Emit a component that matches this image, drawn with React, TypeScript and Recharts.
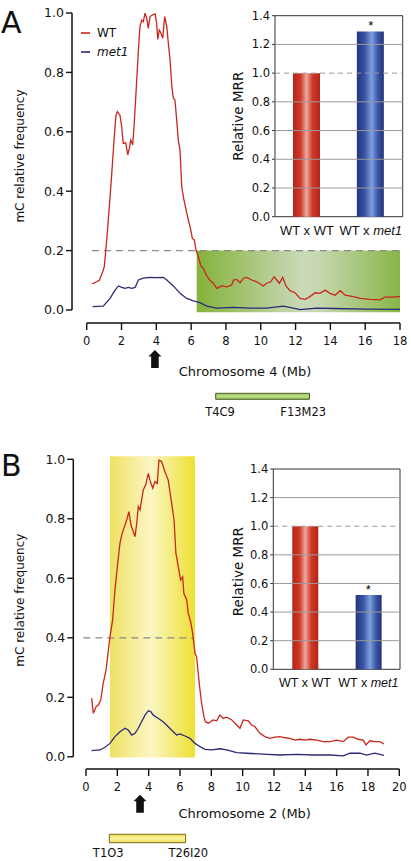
import React from 'react';
import {
  ComposedChart, Line, XAxis, YAxis, ReferenceArea, ReferenceLine, ReferenceDot,
  Legend, BarChart, Bar, Cell,
} from 'recharts';

const FONT = '"DejaVu Sans", "Liberation Sans", sans-serif';
const FONT2 = '"Liberation Sans", Arial, sans-serif';
const INK = '#111';
const RED = '#c9261d';
const NAVY = '#2b2a78';
const SERIES_COLORS: Record<string, string> = { WT: RED, met1: NAVY };

// ---------- Panel A: chromosome 4 ----------
const wtChr4: [number, number][] = [
  [0.32,0.088],[0.57,0.095],[0.73,0.10],[0.92,0.129],[1.01,0.146],[1.15,0.236],[1.30,0.348],[1.44,0.46],
  [1.57,0.572],[1.68,0.656],[1.76,0.668],[1.91,0.656],[2.01,0.617],[2.10,0.561],[2.24,0.563],[2.36,0.522],
  [2.45,0.544],[2.53,0.572],[2.64,0.556],[2.72,0.617],[2.83,0.73],[2.97,0.875],[3.06,0.954],[3.16,0.976],
  [3.25,0.971],[3.35,0.999],[3.45,0.982],[3.54,0.948],[3.64,0.988],[3.77,0.993],[3.93,0.997],[4.02,0.965],
  [4.08,0.911],[4.17,0.943],[4.27,0.932],[4.37,0.915],[4.48,0.988],[4.60,0.954],[4.69,0.898],[4.79,0.842],
  [4.89,0.752],[4.98,0.713],[5.07,0.707],[5.17,0.64],[5.26,0.572],[5.36,0.539],[5.46,0.415],[5.59,0.37],
  [5.75,0.326],[5.84,0.303],[5.98,0.269],[6.07,0.241],[6.18,0.236],[6.28,0.202],[6.41,0.18],[6.55,0.15],
  [6.70,0.14],[6.90,0.115],[7.08,0.1],[7.28,0.09],[7.47,0.073],[7.76,0.081],[8.05,0.078],[8.33,0.084],
  [8.43,0.101],[8.62,0.103],[8.81,0.092],[9.0,0.107],[9.2,0.11],[9.48,0.101],[9.77,0.095],[10.15,0.081],
  [10.34,0.09],[10.57,0.095],[10.77,0.112],[10.92,0.101],[11.07,0.09],[11.26,0.11],[11.45,0.081],[11.68,0.065],
  [11.97,0.058],[12.26,0.039],[12.55,0.036],[12.83,0.045],[13.12,0.058],[13.41,0.056],[13.7,0.067],[13.98,0.056],
  [14.27,0.05],[14.56,0.065],[14.85,0.05],[15.32,0.045],[15.71,0.039],[16.28,0.036],[16.86,0.034],[17.14,0.043],
  [17.53,0.043],[18.0,0.045],
];
const met1Chr4: [number, number][] = [
  [0.34,0.011],[0.95,0.013],[1.34,0.039],[1.63,0.067],[1.82,0.081],[2.01,0.076],[2.2,0.073],[2.39,0.076],
  [2.59,0.073],[2.78,0.076],[2.97,0.101],[3.25,0.107],[3.64,0.11],[4.02,0.109],[4.4,0.11],[4.6,0.101],
  [4.98,0.081],[5.36,0.056],[5.75,0.039],[6.13,0.031],[6.51,0.025],[6.9,0.013],[7.47,0.006],[8.43,0.009],
  [9.39,0.006],[10.34,0.006],[11.3,0.013],[11.87,0.006],[12.26,0.001],[13.2,0.006],[14.2,0.005],[16.1,0.003],
  [18,0.002],
];
const ticksChr4 = [0, 2, 4, 6, 8, 10, 12, 14, 16, 18];
const regionChr4 = { from: 6.32, to: 18, low: -0.008, high: 0.2 };
const thresholdChr4 = 0.2;
const arrowChr4 = 3.92;
const bacChr4 = { from: 7.41, to: 12.8, left: 'T4C9', right: 'F13M23', leftAt: 7.66, rightAt: 12.44 };

// ---------- Panel B: chromosome 2 ----------
const wtChr2: [number, number][] = [
  [0.36,0.197],[0.47,0.146],[0.64,0.168],[0.79,0.174],[0.94,0.191],[1.1,0.247],[1.28,0.292],[1.38,0.336],
  [1.53,0.404],[1.7,0.46],[1.85,0.561],[2.0,0.639],[2.17,0.718],[2.28,0.746],[2.45,0.773],[2.6,0.796],
  [2.74,0.824],[2.87,0.779],[3.02,0.757],[3.13,0.74],[3.24,0.785],[3.34,0.841],[3.45,0.83],[3.55,0.863],
  [3.66,0.897],[3.81,0.914],[3.98,0.953],[4.08,0.93],[4.26,0.903],[4.4,0.925],[4.55,0.919],[4.66,0.998],
  [4.83,0.992],[5.04,0.958],[5.25,0.93],[5.47,0.852],[5.62,0.796],[5.74,0.684],[5.89,0.639],[6.04,0.594],
  [6.17,0.605],[6.25,0.549],[6.43,0.527],[6.53,0.482],[6.68,0.454],[6.81,0.415],[6.96,0.348],[7.06,0.336],
  [7.23,0.247],[7.38,0.18],[7.53,0.135],[7.62,0.118],[7.81,0.113],[8.12,0.124],[8.34,0.121],[8.55,0.14],
  [8.76,0.129],[8.98,0.133],[9.3,0.124],[9.62,0.107],[9.83,0.096],[10.04,0.124],[10.36,0.121],[10.57,0.107],
  [10.79,0.101],[11.1,0.079],[11.42,0.068],[11.74,0.062],[12.06,0.066],[12.38,0.068],[12.7,0.064],[13.02,0.062],
  [13.34,0.056],[13.66,0.059],[13.98,0.056],[14.29,0.059],[14.72,0.056],[15.14,0.051],[15.57,0.051],[16.0,0.056],
  [16.42,0.051],[16.74,0.066],[17.06,0.066],[17.38,0.059],[17.7,0.056],[17.87,0.04],[18.12,0.054],[18.44,0.051],
  [18.76,0.051],[19.02,0.043],
];
const met1Chr2: [number, number][] = [
  [0.36,0.021],[0.89,0.023],[1.21,0.032],[1.53,0.045],[1.85,0.068],[2.17,0.084],[2.49,0.096],[2.7,0.09],
  [2.92,0.073],[3.13,0.079],[3.34,0.096],[3.55,0.118],[3.77,0.14],[3.98,0.155],[4.13,0.152],[4.3,0.14],
  [4.62,0.129],[4.93,0.118],[5.25,0.101],[5.57,0.084],[5.79,0.073],[6.0,0.077],[6.32,0.07],[6.64,0.062],
  [6.96,0.045],[7.28,0.034],[7.59,0.025],[8.02,0.023],[8.55,0.027],[8.98,0.023],[9.62,0.014],[10.26,0.012],
  [11.31,0.009],[12.38,0.006],[13.45,0.008],[14.5,0.006],[15.57,0.006],[16.42,0.003],[16.85,0.012],[17.49,0.012],
  [17.91,0.006],[18.44,0.012],[19.02,0.005],
];
const ticksChr2 = [0, 2, 4, 6, 8, 10, 12, 14, 16, 18, 20];
const regionChr2 = { from: 1.53, to: 6.96, low: -0.002, high: 1.01 };
const thresholdChr2 = 0.4;
const arrowChr2 = 3.45;
const bacChr2 = { from: 1.49, to: 6.36, left: 'T1O3', right: 'T26I20', leftAt: 1.42, rightAt: 6.53 };

// ---------- Insets ----------
const crosses = ['WT x WT', 'WT x met1'];
const mrrA = [1.0, 1.29];
const mrrB = [1.0, 0.52];
const starsA = ['', '*'];
const starsB = ['', '*'];
const mrrTicks = [0, 0.2, 0.4, 0.6, 0.8, 1.0, 1.2, 1.4];
const mrrGrid = [0.2, 0.4, 0.6, 0.8, 1.2];

const yTicks = [0, 0.2, 0.4, 0.6, 0.8, 1.0];

const toPts = (a: [number, number][]) => a.map(([x, y]) => ({ x, y }));

const Arrow = (p: any) => {
  const { cx, cy } = p;
  if (cx == null || cy == null) return null;
  const d = `M ${cx} ${cy - 9} L ${cx + 6.5} ${cy - 2.5} L ${cx + 3.8} ${cy - 2.5} L ${cx + 3.8} ${cy + 9} L ${cx - 3.8} ${cy + 9} L ${cx - 3.8} ${cy - 2.5} L ${cx - 6.5} ${cy - 2.5} Z`;
  return <path d={d} fill={INK} />;
};

const textShape = (label: string) => (p: any) => {
  const { cx, cy } = p;
  if (cx == null || cy == null) return null;
  return (
    <text x={cx} y={cy} textAnchor="middle" dominantBaseline="central" fontSize={11.5} fill={INK}>{label}</text>
  );
};

const starShape = (label: string) => (p: any) => {
  const { cx, cy } = p;
  if (cx == null || cy == null) return null;
  return (
    <text x={cx} y={cy - 1} textAnchor="middle" fontSize={13} fill="#000" fontFamily={FONT2}>{label}</text>
  );
};

const renderLegend = (props: any) => {
  const { payload } = props;
  return (
    <div style={{ fontFamily: FONT }}>
      {(payload || []).map((e: any) => (
        <div key={e.value} style={{ display: 'flex', alignItems: 'center', height: 18.4 }}>
          <svg width={9} height={4} style={{ marginRight: 7, display: 'block' }}>
            <line x1={0} y1={2} x2={9} y2={2} stroke={SERIES_COLORS[e.value] || INK} strokeWidth={1.6} />
          </svg>
          <span style={{ fontSize: 12, color: INK, fontStyle: e.value === 'met1' ? 'italic' : 'normal' }}>{e.value}</span>
        </div>
      ))}
    </div>
  );
};

const insetTick = (fs: number) => (props: any) => {
  const { x, y, payload } = props;
  const v: string = payload.value;
  const i = v.indexOf('met1');
  return (
    <text x={x} y={y} dy="0.71em" textAnchor="middle" fontSize={fs} fill={INK} fontFamily={FONT2}>
      {i >= 0 ? (
        <>
          <tspan>{v.slice(0, i)}</tspan>
          <tspan fontStyle="italic">met1</tspan>
        </>
      ) : v}
    </text>
  );
};

type MainProps = {
  top: number; height: number; yAxisW: number; marginTop: number; marginRight: number; xAxisH: number;
  xMin: number; xMax: number; yMin: number; ticks: number[];
  wt: [number, number][]; met1: [number, number][];
  region: { from: number; to: number; low: number; high: number }; regionFill: string;
  threshold: number; thrFrom: number; thrTo: number;
  arrowX: number; arrowY: number;
  bac: { from: number; to: number; left: string; right: string; leftAt: number; rightAt: number };
  bacLow: number; bacHigh: number; bacText: number; bacFill: string; bacStroke: string;
  xTitle: string; xTitleDx: number; xTitleOffset: number; yTitleDx: number; yTitleDy: number;
  legend: boolean;
};

const MainPanel = (p: MainProps) => (
  <div style={{ position: 'absolute', left: 0, top: p.top }}>
    <ComposedChart width={411} height={p.height} margin={{ top: p.marginTop, right: p.marginRight, bottom: 0, left: 0 }}>
      <XAxis
        type="number" dataKey="x" domain={[p.xMin, p.xMax]} allowDataOverflow ticks={p.ticks}
        axisLine={false} tickLine={{ stroke: INK, strokeWidth: 1.4 }} tickSize={7} tickMargin={7}
        height={p.xAxisH} tick={{ fontSize: 11.5, fill: INK }}
        label={{ value: p.xTitle, position: 'insideTop', offset: p.xTitleOffset, dx: p.xTitleDx, style: { fontSize: 13, fill: INK } }}
      />
      <YAxis
        type="number" domain={[p.yMin, 1]} allowDataOverflow ticks={yTicks}
        tickFormatter={(v: number) => v.toFixed(1)} axisLine={false} width={p.yAxisW}
        tickSize={6} tickMargin={2} tick={{ fontSize: 12.5, fill: INK }} tickLine={{ stroke: INK, strokeWidth: 1.4 }}
        label={{ value: 'mC relative frequency', angle: -90, position: 'center', dx: p.yTitleDx, dy: p.yTitleDy, style: { fontSize: 12, fill: INK } }}
      />
      <ReferenceArea x1={p.region.from} x2={p.region.to} y1={p.region.low} y2={p.region.high}
        fill={p.regionFill} fillOpacity={1} stroke="none" ifOverflow="visible" />
      <ReferenceLine segment={[{ x: p.thrFrom, y: p.threshold }, { x: p.thrTo, y: p.threshold }]}
        stroke="#8a8a8a" strokeDasharray="7 5" strokeWidth={1.2} ifOverflow="visible" />
      <ReferenceLine segment={[{ x: 0, y: p.yMin }, { x: p.xMax, y: p.yMin }]} stroke={INK} strokeWidth={1.5} ifOverflow="visible" />
      <ReferenceLine segment={[{ x: p.xMin, y: 0 }, { x: p.xMin, y: 1 }]} stroke={INK} strokeWidth={1.5} ifOverflow="visible" />
      <Line data={toPts(p.wt)} dataKey="y" name="WT" stroke={RED} strokeWidth={1.3} dot={false} type="linear" isAnimationActive={false} />
      <Line data={toPts(p.met1)} dataKey="y" name="met1" stroke={NAVY} strokeWidth={1.3} dot={false} type="linear" isAnimationActive={false} />
      <ReferenceDot x={p.arrowX} y={p.arrowY} ifOverflow="visible" shape={Arrow} />
      <ReferenceArea x1={p.bac.from} x2={p.bac.to} y1={p.bacLow} y2={p.bacHigh}
        fill={p.bacFill} fillOpacity={1} stroke={p.bacStroke} strokeWidth={1} ifOverflow="visible" />
      <ReferenceDot x={p.bac.leftAt} y={p.bacText} ifOverflow="visible" shape={textShape(p.bac.left)} />
      <ReferenceDot x={p.bac.rightAt} y={p.bacText} ifOverflow="visible" shape={textShape(p.bac.right)} />
      {p.legend && (
        <Legend layout="vertical" align="center" verticalAlign="middle" content={renderLegend}
          wrapperStyle={{ left: 81, top: 24, width: 80 }} />
      )}
    </ComposedChart>
  </div>
);

type InsetProps = {
  left: number; top: number; width: number; height: number; yAxisW: number;
  marginTop: number; marginRight: number; xAxisH: number; values: number[]; stars: string[];
  titleDx: number; titleDy: number; tickFs: number; barSize: number;
};

const Inset = (p: InsetProps) => {
  const data = crosses.map((name, i) => ({ name, value: p.values[i] }));
  const fills = ['url(#barRed)', 'url(#barBlue)'];
  return (
    <div style={{ position: 'absolute', left: p.left, top: p.top }}>
      <BarChart width={p.width} height={p.height} data={data}
        margin={{ top: p.marginTop, right: p.marginRight, bottom: 0, left: 0 }}>
        <XAxis dataKey="name" axisLine={false} tickLine={false} tickSize={0} tickMargin={9}
          height={p.xAxisH} interval={0} tick={insetTick(p.tickFs)} />
        <YAxis type="number" domain={[0, 1.4]} ticks={mrrTicks} tickFormatter={(v: number) => v.toFixed(1)}
          axisLine={false} width={p.yAxisW} tickSize={3} tickMargin={2}
          tick={{ fontSize: 11.5, fill: INK }} tickLine={{ stroke: '#333' }}
          label={{ value: 'Relative MRR', angle: -90, position: 'center', dx: p.titleDx, dy: p.titleDy, style: { fontSize: 13.5, fill: INK } }} />
        {mrrGrid.map((g) => (
          <ReferenceLine key={g} y={g} stroke="#9a9a9a" strokeWidth={1} />
        ))}
        <ReferenceLine y={1.0} stroke="#9a9a9a" strokeDasharray="5 4" strokeWidth={1} />
        <Bar dataKey="value" barSize={p.barSize} isAnimationActive={false}>
          {data.map((d, i) => <Cell key={d.name} fill={fills[i]} />)}
        </Bar>
        {crosses.map((c, i) => (p.stars[i] ? (
          <ReferenceDot key={c} x={c} y={p.values[i]} ifOverflow="visible" shape={starShape(p.stars[i])} />
        ) : null))}
        <ReferenceArea y1={0} y2={1.4} fill="none" stroke="#333" strokeWidth={1} />
      </BarChart>
    </div>
  );
};

export default function App() {
  return (
    <div style={{ position: 'absolute', left: 0, top: 0, width: 411, height: 861, background: '#fff', fontFamily: FONT, overflow: 'hidden' }}>
      <svg width={411} height={861} style={{ position: 'absolute', left: 0, top: 0 }}>
        <defs>
          <linearGradient id="gradGreen" x1="0" y1="0" x2="1" y2="0">
            <stop offset="0%" stopColor="#84b23a" />
            <stop offset="52%" stopColor="#cad9b8" />
            <stop offset="60%" stopColor="#c6d7b0" />
            <stop offset="100%" stopColor="#88b646" />
          </linearGradient>
          <linearGradient id="gradGreenBar" x1="0" y1="0" x2="0" y2="1">
            <stop offset="0%" stopColor="#8fc050" />
            <stop offset="50%" stopColor="#bfe08e" />
            <stop offset="100%" stopColor="#8fc050" />
          </linearGradient>
          <linearGradient id="gradYellow" x1="0" y1="0" x2="1" y2="0">
            <stop offset="0%" stopColor="#efe162" />
            <stop offset="48%" stopColor="#fbf6c4" />
            <stop offset="100%" stopColor="#eee032" />
          </linearGradient>
          <linearGradient id="gradYellowBar" x1="0" y1="0" x2="0" y2="1">
            <stop offset="0%" stopColor="#efe050" />
            <stop offset="50%" stopColor="#fbf3a0" />
            <stop offset="100%" stopColor="#efe050" />
          </linearGradient>
          <linearGradient id="barRed" x1="0" y1="0" x2="1" y2="0">
            <stop offset="0%" stopColor="#b52416" />
            <stop offset="28%" stopColor="#cf3a28" />
            <stop offset="50%" stopColor="#eaa99e" />
            <stop offset="72%" stopColor="#cf3a28" />
            <stop offset="100%" stopColor="#b52416" />
          </linearGradient>
          <linearGradient id="barBlue" x1="0" y1="0" x2="1" y2="0">
            <stop offset="0%" stopColor="#263378" />
            <stop offset="30%" stopColor="#3a55a8" />
            <stop offset="55%" stopColor="#7ea0dd" />
            <stop offset="78%" stopColor="#3a55a8" />
            <stop offset="100%" stopColor="#263378" />
          </linearGradient>
        </defs>
        <text x={1} y={33} fontSize={30} fill={INK} fontFamily={FONT}>A</text>
        <text x={1} y={476} fontSize={30} fill={INK} fontFamily={FONT}>B</text>
      </svg>

      <MainPanel
        top={0} height={425} yAxisW={72} marginTop={13} marginRight={11} xAxisH={102}
        xMin={-0.845} xMax={18} yMin={-0.0438} ticks={ticksChr4}
        wt={wtChr4} met1={met1Chr4}
        region={regionChr4} regionFill="url(#gradGreen)"
        threshold={thresholdChr4} thrFrom={0.3} thrTo={18}
        arrowX={arrowChr4} arrowY={-0.165}
        bac={bacChr4} bacLow={-0.3007} bacHigh={-0.2805} bacText={-0.3444}
        bacFill="url(#gradGreenBar)" bacStroke="#4d5e2a"
        xTitle="Chromosome 4 (Mb)" xTitleDx={9} xTitleOffset={44} yTitleDx={-16} yTitleDy={-12}
        legend
      />
      <MainPanel
        top={440} height={421} yAxisW={73.3} marginTop={19.3} marginRight={11.7} xAxisH={92}
        xMin={-0.81} xMax={20} yMin={-0.041} ticks={ticksChr2}
        wt={wtChr2} met1={met1Chr2}
        region={regionChr2} regionFill="url(#gradYellow)"
        threshold={thresholdChr2} thrFrom={-0.17} thrTo={6.85}
        arrowX={arrowChr2} arrowY={-0.158}
        bac={bacChr2} bacLow={-0.2887} bacHigh={-0.2605} bacText={-0.3237}
        bacFill="url(#gradYellowBar)" bacStroke="#7a6a1a"
        xTitle="Chromosome 2 (Mb)" xTitleDx={8.4} xTitleOffset={39.3} yTitleDx={-16.7} yTitleDy={-14}
        legend={false}
      />

      <Inset left={220} top={0} width={191} height={240} yAxisW={55} marginTop={15.7} marginRight={8.3}
        xAxisH={23.3} values={mrrA} stars={starsA} titleDx={-9.5} titleDy={0} tickFs={13} barSize={27} />
      <Inset left={218} top={450} width={193} height={250} yAxisW={55.3} marginTop={19} marginRight={11}
        xAxisH={30.7} values={mrrB} stars={starsB} titleDx={-7.4} titleDy={2.5} tickFs={12.5} barSize={26} />
    </div>
  );
}
